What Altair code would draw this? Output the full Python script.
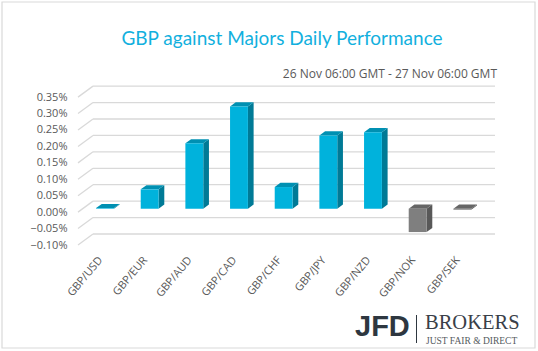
import altair as alt
import pandas as pd

# ---- data ----
pairs = ["GBP/USD", "GBP/EUR", "GBP/AUD", "GBP/CAD", "GBP/CHF",
         "GBP/JPY", "GBP/NZD", "GBP/NOK", "GBP/SEK"]
changes = [0.002, 0.059, 0.199, 0.311, 0.066, 0.223, 0.233, -0.071, -0.003]  # percent
y_ticks = [-0.10, -0.05, 0.00, 0.05, 0.10, 0.15, 0.20, 0.25, 0.30, 0.35]
title_text = "GBP against Majors Daily Performance"
subtitle_text = "26 Nov 06:00 GMT - 27 Nov 06:00 GMT"

# ---- 3D styling (in data units) ----
DX = 0.336          # depth of the wall in category units
DY = 0.0335         # depth of the wall in percent units
F0, F1 = 0.31, 0.69  # depth position of bar front / back
BAR_W = 0.40
XMAX = len(pairs) + DX
YMIN, YMAX = -0.10, 0.3839

POS = dict(front="#00B2DC", side="#007A96", top="#0090B2")
NEG = dict(front="#7F7F7F", side="#585858", top="#666666")

xs = alt.Scale(domain=[0, XMAX], nice=False, zero=False)
ys = alt.Scale(domain=[YMIN, YMAX], nice=False, zero=False)

front_rows, side_rows, top_rows = [], [], []
for i, (p, v) in enumerate(zip(pairs, changes)):
    pal = POS if v >= 0 else NEG
    c = i + 0.5 + F0 * DX
    l, r = c - BAR_W / 2, c + BAR_W / 2
    lo, hi = min(0, v) + F0 * DY, max(0, v) + F0 * DY
    ddx, ddy = (F1 - F0) * DX, (F1 - F0) * DY
    front_rows.append(dict(pair=p, x=l, x2=r, y=lo, y2=hi, col=pal["front"]))
    side_rows.append(dict(pair=p, x=r, y=hi, y2=lo, col=pal["side"]))
    side_rows.append(dict(pair=p, x=r + ddx, y=hi + ddy, y2=lo + ddy, col=pal["side"]))
    top_rows.append(dict(pair=p, y=hi, x=l, x2=r, col=pal["top"]))
    top_rows.append(dict(pair=p, y=hi + ddy, x=l + ddx, x2=r + ddx, col=pal["top"]))

front_df = pd.DataFrame(front_rows)
side_df = pd.DataFrame(side_rows)
top_df = pd.DataFrame(top_rows)

grid_df = pd.DataFrame({"v": y_ticks})
grid_df["yb"] = grid_df["v"] + DY
grid_df["x0"] = 0.0
grid_df["xb"] = DX
grid_df["xe"] = XMAX

GRID = "#D9D9D9"
LABEL = "#595959"
names_js = "[" + ",".join("'" + p + "'" for p in pairs) + "]"

y_axis = alt.Axis(values=y_ticks, labelExpr="format(datum.value, '.2f') + '%'",
                  domain=False, ticks=False, grid=False, labelPadding=11,
                  labelFontSize=11, labelColor=LABEL, labelFont="Open Sans", title=None)
x_axis = alt.Axis(values=[i + 0.5 for i in range(len(pairs))],
                  labelExpr=names_js + "[floor(datum.value)]",
                  domain=False, ticks=False, grid=False, labelAngle=-50,
                  labelAlign="right", labelBaseline="middle", labelPadding=13,
                  labelOverlap=False, labelFlush=False,
                  labelFontSize=11, labelColor=LABEL, labelFont="Open Sans", title=None)

X = lambda f: alt.X(f, scale=xs, axis=x_axis)
Y = lambda f: alt.Y(f, scale=ys, axis=y_axis)

back_grid = alt.Chart(grid_df).mark_rule(color=GRID, strokeWidth=1.3).encode(
    x=X("xb:Q"), x2="xe:Q", y=Y("yb:Q"),
)
diag_grid = alt.Chart(grid_df).mark_rule(color=GRID, strokeWidth=1.3).encode(
    x=X("x0:Q"), x2="xb:Q", y=Y("v:Q"), y2="yb:Q",
)
side = alt.Chart(side_df).mark_area().encode(
    x=X("x:Q"), y=Y("y:Q"), y2="y2:Q",
    detail="pair:N",
    color=alt.Color("col:N", scale=None),
)
top = alt.Chart(top_df).mark_area(orient="horizontal").encode(
    y=Y("y:Q"), x=X("x:Q"), x2="x2:Q",
    detail="pair:N",
    color=alt.Color("col:N", scale=None),
)
front = alt.Chart(front_df).mark_rect().encode(
    x=X("x:Q"), x2="x2:Q", y=Y("y:Q"), y2="y2:Q",
    color=alt.Color("col:N", scale=None),
)

one = pd.DataFrame({"k": [0]})
OX, OY = 78, 86  # plot origin in the page

def txt(text, px, py, **kw):
    return alt.Chart(one).mark_text(text=text, **kw).encode(
        x=alt.value(px - OX), y=alt.value(py - OY))

border = alt.Chart(one).mark_rect(fill=None, stroke="#D9D9D9", strokeWidth=1.2).encode(
    x=alt.value(2 - OX), x2=alt.value(535 - OX),
    y=alt.value(2 - OY), y2=alt.value(348 - OY))

title = txt(title_text, 282, 45, font="Lato", fontSize=19, color="#12B0DE",
            align="center", baseline="alphabetic")
subtitle = txt(subtitle_text, 497, 78, font="Open Sans", fontSize=12, color=LABEL,
               align="right", baseline="alphabetic")
jfd = txt("JFD", 355, 336, font="Liberation Sans", fontWeight="bold", fontSize=29,
          color="#2E3740", align="left", baseline="alphabetic")
divider = alt.Chart(one).mark_rule(color="#2E3740", strokeWidth=1).encode(
    x=alt.value(416.5 - OX), y=alt.value(315 - OY), y2=alt.value(343 - OY))
brokers = txt("BROKERS", 425, 329, font="Liberation Serif", fontSize=20.5,
              color="#3A4048", align="left", baseline="alphabetic")
slogan = txt("JUST FAIR & DIRECT", 426, 343.5, font="Liberation Serif", fontSize=9.5,
             color="#555A60", align="left", baseline="alphabetic")

chart = alt.layer(
    back_grid, diag_grid, side, top, front,
    border, title, subtitle, jfd, divider, brokers, slogan,
).properties(
    width=417, height=159,
    padding={"left": OX, "top": OY, "right": 538 - OX - 417, "bottom": 351 - OY - 159},
    autosize=alt.AutoSizeParams(type="none"),
    background="white",
).configure_view(stroke=None)

chart.save("out.html", embed_options={"renderer": "svg", "actions": False})
